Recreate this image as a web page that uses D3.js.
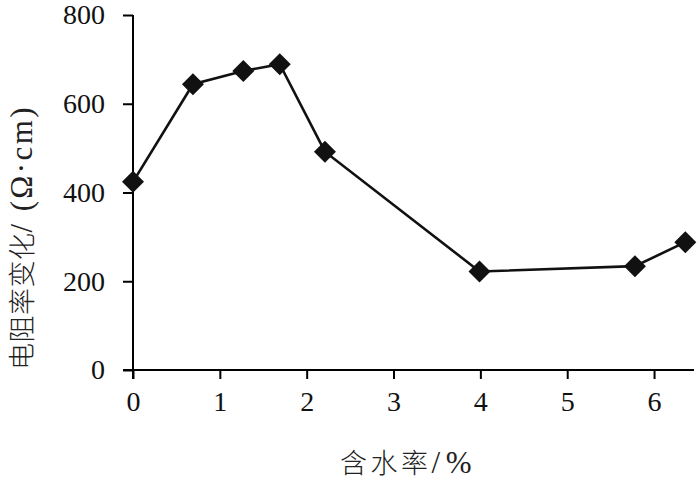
<!DOCTYPE html>
<html lang="zh">
<head>
<meta charset="utf-8">
<title>含水率与电阻率变化</title>
<script src="https://cdn.jsdelivr.net/npm/d3@7/dist/d3.min.js"></script>
<style>
  body { margin: 0; background: #fff; }
  .axis path, .axis line { stroke: #000; stroke-width: 2px; }
</style>
</head>
<body>
<script>
// data
var waterContent = [0, 0.69, 1.27, 1.69, 2.21, 3.99, 5.78, 6.36];
var resistivity  = [424, 644, 674, 689, 492, 222, 234, 288];
var xTicks = [0, 1, 2, 3, 4, 5, 6];
var yTicks = [0, 200, 400, 600, 800];

var width = 700, height = 480;
var margin = {top: 15, right: 6, bottom: 110, left: 133};
var w = width - margin.left - margin.right;
var h = height - margin.top - margin.bottom;
var serif = "'Liberation Serif'";
var cjk = "'Noto Sans CJK SC'";

var svg = d3.select("body").append("svg")
    .attr("width", width)
    .attr("height", height);
var g = svg.append("g")
    .attr("transform", "translate(" + margin.left + "," + margin.top + ")");

var x = d3.scaleLinear().domain([0, 6.46]).range([0, w]);
var y = d3.scaleLinear().domain([0, 800]).range([h, 0]);

// axes
var xg = g.append("g")
    .attr("class", "axis")
    .attr("transform", "translate(0," + h + ")")
    .call(d3.axisBottom(x).tickValues(xTicks).tickFormat(d3.format("d"))
        .tickSize(9).tickSizeOuter(0).tickPadding(12));
xg.select(".domain").attr("d", "M-10,0H" + w);

var yg = g.append("g")
    .attr("class", "axis")
    .call(d3.axisLeft(y).tickValues(yTicks).tickFormat(d3.format("d"))
        .tickSize(10).tickSizeOuter(0).tickPadding(18));
yg.select(".domain").attr("d", "M0," + (h + 9) + "V0");

g.selectAll(".axis text")
    .style("font-family", serif)
    .style("font-size", "28px")
    .style("fill", "#111");

// line
var pts = waterContent.map(function(d, i){ return [d, resistivity[i]]; });
g.append("path")
    .datum(pts)
    .attr("fill", "none")
    .attr("stroke", "#111")
    .attr("stroke-width", 2.6)
    .attr("d", d3.line().x(function(d){ return x(d[0]); }).y(function(d){ return y(d[1]); }));

// diamond markers
g.selectAll(".pt")
    .data(pts)
    .enter().append("path")
    .attr("class", "pt")
    .attr("transform", function(d){ return "translate(" + x(d[0]) + "," + y(d[1]) + ")"; })
    .attr("d", "M0,-11L11,0L0,11L-11,0Z")
    .attr("fill", "#111");

// axis titles: chinese part in CJK font, units in serif
function title(sel, cn, latin, cnLen, latinLen) {
    sel.style("fill", "#222").attr("text-anchor", "start");
    sel.append("tspan")
        .style("font-family", cjk).style("font-size", "27px").style("font-weight", 300)
        .attr("textLength", cnLen).attr("lengthAdjust", "spacing")
        .text(cn);
    sel.append("tspan")
        .style("font-family", serif).style("font-size", "31px")
        .attr("textLength", latinLen).attr("lengthAdjust", "spacing")
        .text(latin);
}

svg.append("text")
    .attr("x", 340)
    .attr("y", 473)
    .call(title, "含水率", "/%", 88, 40);

svg.append("text")
    .attr("transform", "translate(32,370) rotate(-90)")
    .call(title, "电阻率变化", "/ (Ω·cm)", 137, 125);
</script>
</body>
</html>
